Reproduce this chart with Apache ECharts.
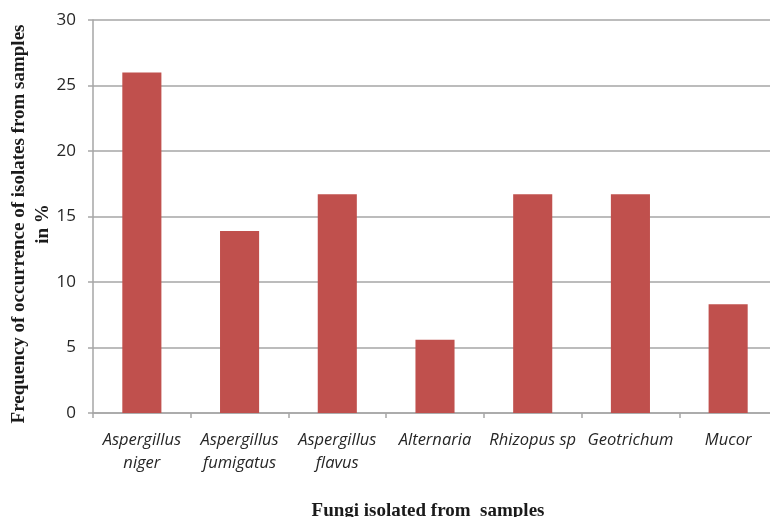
<!DOCTYPE html>
<html>
<head>
<meta charset="utf-8">
<script src="https://cdn.jsdelivr.net/npm/echarts@6/dist/echarts.min.js"></script>
<style>
  html, body { margin: 0; padding: 0; background: #fff; }
  #chart { width: 770px; height: 517px; }
</style>
</head>
<body>
<div id="chart"></div>
<script>
// Fungal isolates and their frequency of occurrence (%)
const categories = [
  'Aspergillus\nniger',
  'Aspergillus\nfumigatus',
  'Aspergillus\nflavus',
  'Alternaria',
  'Rhizopus sp',
  'Geotrichum',
  'Mucor'
];
const frequency = [26, 13.9, 16.7, 5.6, 16.7, 16.7, 8.3];
const yTicks = { min: 0, max: 30, interval: 5 };
const yTitle = 'Frequency of occurrence of isolates from samples\nin %';
const xTitle = 'Fungi isolated from  samples';

const gridGrey = '#a6a6a6';
const chart = echarts.init(document.getElementById('chart'), null, { renderer: 'canvas' });

chart.setOption({
  animation: false,
  grid: {
    left: 93, top: 20, width: 684, height: 393,
    containLabel: false,
    outerBoundsMode: 'none'
  },
  graphic: [{
    // vertical axis title, two lines, reading bottom to top
    type: 'text',
    x: 31,
    y: 224,
    rotation: Math.PI / 2,
    style: {
      text: yTitle,
      fontFamily: 'Liberation Serif',
      fontWeight: 'bold',
      fontSize: 19,
      lineHeight: 24,
      fill: '#1a1a1a',
      align: 'center',
      verticalAlign: 'middle'
    }
  }],
  xAxis: {
    type: 'category',
    data: categories,
    axisLine: { lineStyle: { color: gridGrey, width: 1.5 } },
    axisTick: { show: true, length: 5, lineStyle: { color: gridGrey, width: 1.5 } },
    axisLabel: {
      margin: 16,
      fontFamily: 'Open Sans',
      fontStyle: 'italic',
      fontSize: 16.5,
      lineHeight: 23,
      color: '#262626',
      interval: 0
    },
    name: xTitle,
    nameLocation: 'middle',
    nameGap: 89,
    nameTextStyle: {
      fontFamily: 'Liberation Serif',
      fontWeight: 'bold',
      fontSize: 19,
      color: '#1a1a1a',
      padding: [0, 14, 0, 0]
    }
  },
  yAxis: {
    type: 'value',
    min: yTicks.min,
    max: yTicks.max,
    interval: yTicks.interval,
    axisLine: { show: true, lineStyle: { color: gridGrey, width: 1.5 } },
    axisTick: { show: true, length: 5, lineStyle: { color: gridGrey, width: 1.5 } },
    splitLine: { lineStyle: { color: gridGrey, width: 1.5 } },
    axisLabel: {
      margin: 17,
      fontFamily: 'Open Sans',
      fontSize: 17,
      color: '#262626'
    }
  },
  series: [{
    type: 'bar',
    data: frequency,
    barWidth: '40%',
    itemStyle: { color: '#c0504d' }
  }]
});
</script>
</body>
</html>
